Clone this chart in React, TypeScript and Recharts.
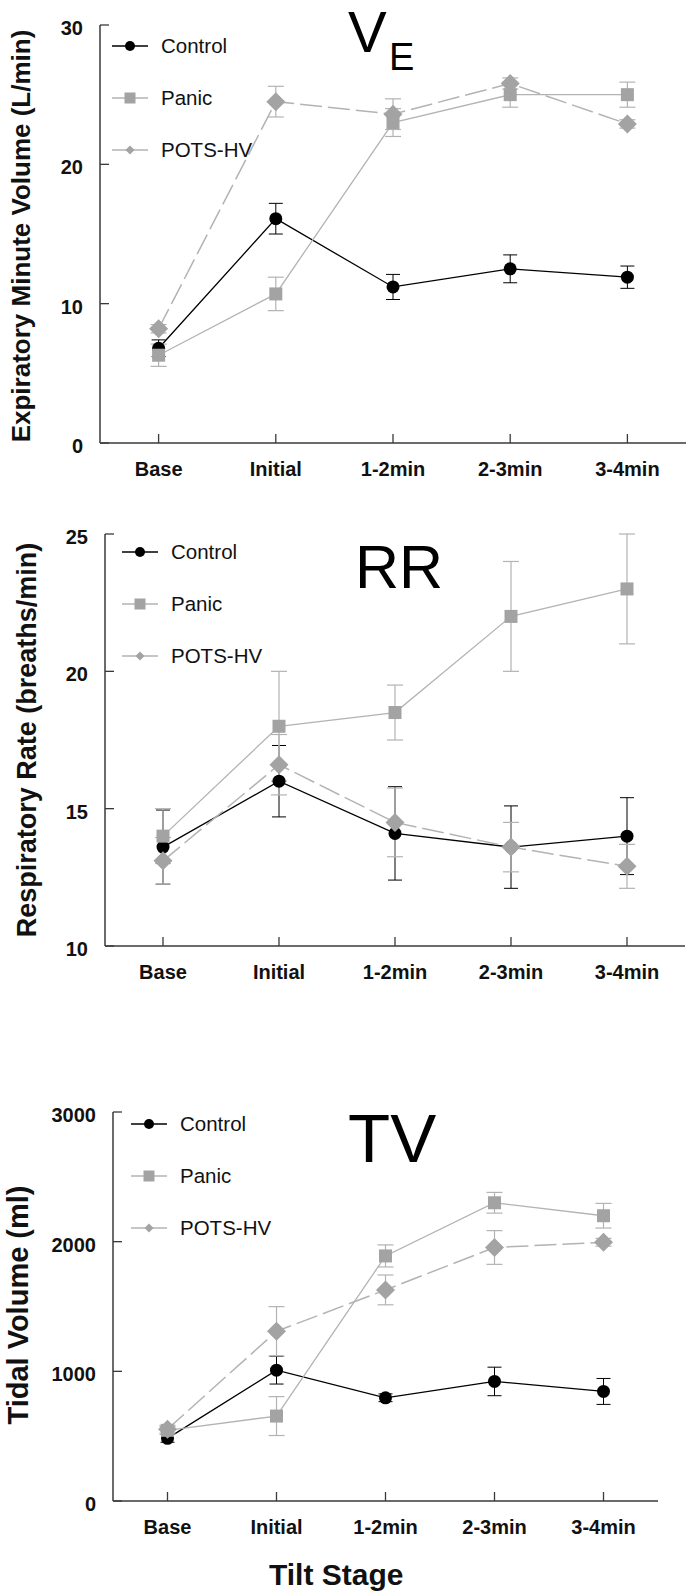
import React from "react";
import { ErrorBar, Legend, Line, LineChart, XAxis, YAxis } from "recharts";

const stages = ["Base", "Initial", "1-2min", "2-3min", "3-4min"];
const seriesNames = ["Control", "Panic", "POTS-HV"];

// expiratory minute volume (L/min)
const veControl = [6.8, 16.1, 11.2, 12.5, 11.9];
const veControlErr = [0.6, 1.1, 0.9, 1.0, 0.8];
const vePanic = [6.3, 10.7, 23.0, 25.0, 25.0];
const vePanicErr = [0.8, 1.2, 1.0, 0.9, 0.9];
const vePots = [8.2, 24.5, 23.6, 25.8, 22.9];
const vePotsErr = [0.3, 1.1, 1.1, 0.4, 0.3];

// respiratory rate (breaths/min)
const rrControl = [13.6, 16.0, 14.1, 13.6, 14.0];
const rrControlErr = [1.35, 1.3, 1.7, 1.5, 1.4];
const rrPanic = [14.0, 18.0, 18.5, 22.0, 23.0];
const rrPanicErr = [1.0, 2.0, 1.0, 2.0, 2.0];
const rrPots = [13.1, 16.6, 14.5, 13.6, 12.9];
const rrPotsErr = [0.85, 1.1, 1.25, 0.9, 0.8];

// tidal volume (ml)
const tvControl = [483, 1009, 796, 922, 845];
const tvControlErr = [30, 107, 30, 110, 100];
const tvPanic = [545, 655, 1890, 2300, 2200];
const tvPanicErr = [30, 150, 85, 80, 95];
const tvPots = [554, 1309, 1628, 1955, 1995];
const tvPotsErr = [30, 190, 115, 130, 30];

const FONT = "'Liberation Sans', Arial, Helvetica, sans-serif";
const AXIS = "#3a3a3a";
const INK = "#111";
const BLACK = "#000";
const GRAY_LINE = "#b3b3b3";
const GRAY_MARK = "#a3a3a3";

type Row = {
  i: number;
  control: number;
  controlErr: number;
  panic: number;
  panicErr: number;
  pots: number;
  potsErr: number;
};

function buildRows(
  c: number[],
  ce: number[],
  p: number[],
  pe: number[],
  h: number[],
  he: number[]
): Row[] {
  return stages.map((_, i) => ({
    i,
    control: c[i],
    controlErr: ce[i],
    panic: p[i],
    panicErr: pe[i],
    pots: h[i],
    potsErr: he[i],
  }));
}

const XTick = (props: any) => {
  const { x, y, payload } = props;
  return (
    <g>
      <line x1={x} y1={y} x2={x} y2={y - 9} stroke={AXIS} strokeWidth={1.3} />
      <text
        x={x}
        y={y}
        dy={33}
        textAnchor="middle"
        fontFamily={FONT}
        fontWeight="bold"
        fontSize={20}
        fill={INK}
      >
        {stages[payload.value]}
      </text>
    </g>
  );
};

const YTick = (props: any) => {
  const { x, y, payload } = props;
  return (
    <g>
      <line x1={x} y1={y} x2={x + 9} y2={y} stroke={AXIS} strokeWidth={1.3} />
      <text
        x={x - 17}
        y={y}
        dy={10}
        textAnchor="end"
        fontFamily={FONT}
        fontWeight="bold"
        fontSize={20}
        fill={INK}
      >
        {payload.value}
      </text>
    </g>
  );
};

const squareDot = (p: any) => (
  <rect key={p.index} x={p.cx - 6.5} y={p.cy - 6.5} width={13} height={13} fill={GRAY_MARK} />
);

const diamondDot = (p: any) => (
  <polygon
    key={p.index}
    points={`${p.cx},${p.cy - 9.5} ${p.cx + 9.5},${p.cy} ${p.cx},${p.cy + 9.5} ${p.cx - 9.5},${p.cy}`}
    fill={GRAY_MARK}
  />
);

function LegendBox() {
  return (
    <svg width={200} height={150} style={{ overflow: "visible" }}>
      {seriesNames.map((name, k) => {
        const y = 26 + k * 52;
        const color = k === 0 ? BLACK : GRAY_LINE;
        return (
          <g key={name}>
            <line x1={12} y1={y} x2={48} y2={y} stroke={color} strokeWidth={1.3} />
            {k === 0 && <circle cx={30} cy={y} r={5} fill={BLACK} />}
            {k === 1 && <rect x={24.5} y={y - 5.5} width={11} height={11} fill={GRAY_MARK} />}
            {k === 2 && (
              <polygon
                points={`30,${y - 4.5} 34.5,${y} 30,${y + 4.5} 25.5,${y}`}
                fill={GRAY_MARK}
              />
            )}
            <text x={61} y={y + 7} fontFamily={FONT} fontSize={20.5} fill={INK}>
              {name}
            </text>
          </g>
        );
      })}
    </svg>
  );
}

type PanelProps = {
  top: number;
  height: number;
  margin: { top: number; right: number; bottom: number; left: number };
  yWidth: number;
  domain: [number, number];
  ticks: number[];
  rows: Row[];
  legendLeft: number;
  legendTop: number;
};

function TiltPanel(props: PanelProps) {
  const { top, height, margin, yWidth, domain, ticks, rows, legendLeft, legendTop } = props;
  return (
    <div style={{ position: "absolute", left: 0, top }}>
      <LineChart width={688} height={height} data={rows} margin={margin}>
        <XAxis
          dataKey="i"
          type="number"
          domain={[-0.5, 4.5]}
          ticks={[0, 1, 2, 3, 4]}
          interval={0}
          height={40}
          tickSize={0}
          tickMargin={0}
          tickLine={false}
          axisLine={{ stroke: AXIS, strokeWidth: 1.5 }}
          tick={<XTick />}
          allowDataOverflow
        />
        <YAxis
          type="number"
          domain={domain}
          ticks={ticks}
          interval={0}
          width={yWidth}
          tickSize={0}
          tickMargin={0}
          tickLine={false}
          axisLine={{ stroke: AXIS, strokeWidth: 1.5 }}
          tick={<YTick />}
          allowDataOverflow
        />
        <Legend
          layout="vertical"
          align="center"
          verticalAlign="middle"
          content={<LegendBox />}
          wrapperStyle={{ left: legendLeft, top: legendTop, width: 200, height: 150 }}
        />
        <Line
          dataKey="control"
          stroke={BLACK}
          strokeWidth={1.3}
          dot={{ r: 6.5, fill: BLACK, stroke: BLACK, strokeWidth: 0 }}
          isAnimationActive={false}
        >
          <ErrorBar dataKey="controlErr" direction="y" width={7} stroke={BLACK} strokeWidth={1} isAnimationActive={false} />
        </Line>
        <Line
          dataKey="panic"
          stroke={GRAY_LINE}
          strokeWidth={1.3}
          dot={squareDot}
          isAnimationActive={false}
        >
          <ErrorBar dataKey="panicErr" direction="y" width={8} stroke={GRAY_LINE} strokeWidth={1.2} isAnimationActive={false} />
        </Line>
        <Line
          dataKey="pots"
          stroke={GRAY_LINE}
          strokeWidth={1.5}
          strokeDasharray="22 6"
          dot={diamondDot}
          isAnimationActive={false}
        >
          <ErrorBar dataKey="potsErr" direction="y" width={8} stroke={GRAY_LINE} strokeWidth={1.2} isAnimationActive={false} />
        </Line>
      </LineChart>
    </div>
  );
}

export default function App() {
  const veRows = buildRows(veControl, veControlErr, vePanic, vePanicErr, vePots, vePotsErr);
  const rrRows = buildRows(rrControl, rrControlErr, rrPanic, rrPanicErr, rrPots, rrPotsErr);
  const tvRows = buildRows(tvControl, tvControlErr, tvPanic, tvPanicErr, tvPots, tvPotsErr);

  return (
    <div
      style={{
        position: "absolute",
        left: 0,
        top: 0,
        width: 688,
        height: 1593,
        background: "#fff",
        overflow: "hidden",
      }}
    >
      <TiltPanel
        top={0}
        height={500}
        margin={{ top: 25, right: 2, bottom: 17, left: 0 }}
        yWidth={100}
        domain={[0, 30]}
        ticks={[0, 10, 20, 30]}
        rows={veRows}
        legendLeft={100}
        legendTop={20}
      />
      <TiltPanel
        top={500}
        height={500}
        margin={{ top: 34, right: 3, bottom: 14, left: 0 }}
        yWidth={105}
        domain={[10, 25]}
        ticks={[10, 15, 20, 25]}
        rows={rrRows}
        legendLeft={110}
        legendTop={26}
      />
      <TiltPanel
        top={1000}
        height={593}
        margin={{ top: 112, right: 30, bottom: 52, left: 0 }}
        yWidth={113}
        domain={[0, 3000]}
        ticks={[0, 1000, 2000, 3000]}
        rows={tvRows}
        legendLeft={119}
        legendTop={98}
      />

      <svg
        width={688}
        height={1593}
        style={{ position: "absolute", left: 0, top: 0, pointerEvents: "none" }}
      >
        <g fontFamily={FONT} fill={BLACK}>
          <text x={348} y={52} fontSize={58}>V</text>
          <text x={389} y={70} fontSize={38}>E</text>
          <text x={355} y={588} fontSize={61}>RR</text>
          <text x={348} y={1162} fontSize={69}>TV</text>
        </g>
        <g fontFamily={FONT} fontWeight="bold" fill={INK} textAnchor="middle">
          <text transform="translate(30,236) rotate(-90)" fontSize={26}>
            Expiratory Minute Volume (L/min)
          </text>
          <text transform="translate(36,740) rotate(-90)" fontSize={27}>
            Respiratory Rate (breaths/min)
          </text>
          <text transform="translate(28,1305) rotate(-90)" fontSize={29}>
            Tidal Volume (ml)
          </text>
        </g>
        <text x={269} y={1585} fontFamily={FONT} fontWeight="bold" fontSize={30} fill={INK}>
          Tilt Stage
        </text>
      </svg>
    </div>
  );
}
